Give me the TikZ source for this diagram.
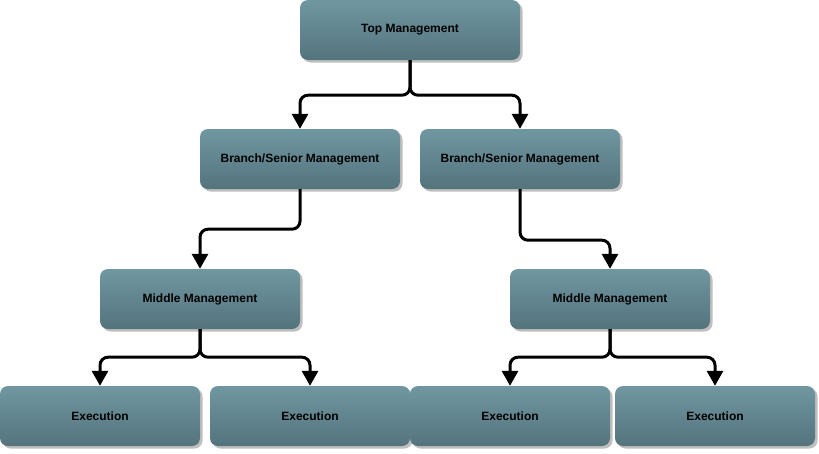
\documentclass[tikz,border=0pt]{standalone}
\usepackage{fontspec}
\setmainfont{Liberation Sans}
\usetikzlibrary{arrows.meta,shadows}
\definecolor{boxtop}{RGB}{112,151,161}
\definecolor{boxbottom}{RGB}{84,115,125}
\begin{document}
\begin{tikzpicture}[x=1pt, y=-1pt,
    box/.style={rounded corners=8pt, top color=boxtop, bottom color=boxbottom,
      minimum width=200pt, minimum height=60pt, inner sep=0pt,
      font=\fontsize{12}{14}\selectfont\bfseries,
      drop shadow={shadow xshift=2.5pt, shadow yshift=-2.5pt, fill=black!25, opacity=1}},
    conn/.style={line width=3pt, rounded corners=8pt,
      -{Triangle[width=16pt,length=15pt]}}]
    \useasboundingbox (0,0) rectangle (819,453);
    \node[box, minimum width=220pt] (top) at (410,30)  {Top Management};
    \node[box] (bl) at (300,159)  {Branch/Senior Management};
    \node[box] (br) at (520,159)  {Branch/Senior Management};
    \node[box] (ml) at (200,299)  {Middle Management};
    \node[box] (mr) at (610,299)  {Middle Management};
    \node[box] (e1) at (100,416)  {Execution};
    \node[box] (e2) at (310,416)  {Execution};
    \node[box] (e3) at (510,416)  {Execution};
    \node[box] (e4) at (715,416)  {Execution};
    \draw[conn] (top.south) -- ++(0,35) -| (bl.north);
    \draw[conn] (top.south) -- ++(0,35) -| (br.north);
    \draw[conn] (bl.south) -- ++(0,40) -| (ml.north);
    \draw[conn] (br.south) -- ++(0,51) -| (mr.north);
    \draw[conn] (ml.south) -- ++(0,28) -| (e1.north);
    \draw[conn] (ml.south) -- ++(0,28) -| (e2.north);
    \draw[conn] (mr.south) -- ++(0,28) -| (e3.north);
    \draw[conn] (mr.south) -- ++(0,28) -| (e4.north);
  \end{tikzpicture}
\end{document}
